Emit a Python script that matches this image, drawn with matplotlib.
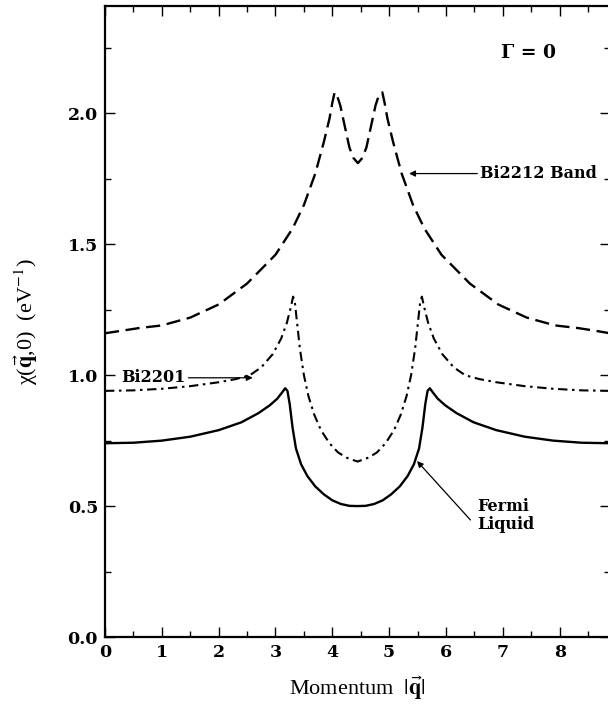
import matplotlib
matplotlib.use("Agg")
from matplotlib import pyplot as plt
from matplotlib.ticker import MultipleLocator

# Momentum |q| values and chi(q,0) for the three curves
q_band = [0.0, 0.3, 0.6, 1.0, 1.5, 2.0, 2.5, 3.0, 3.3, 3.5, 3.7, 3.85,
          3.95, 4.0, 4.04, 4.08, 4.14, 4.22, 4.3, 4.37, 4.45, 4.53, 4.6,
          4.68, 4.76, 4.82, 4.88, 4.92, 4.97, 5.07, 5.22, 5.42, 5.62,
          5.92, 6.42, 6.92, 7.42, 7.92, 8.32, 8.62, 8.886]
chi_band = [1.16, 1.17, 1.18, 1.19, 1.22, 1.27, 1.35, 1.46, 1.56, 1.65,
            1.77, 1.89, 1.98, 2.04, 2.08, 2.07, 2.03, 1.95, 1.87, 1.83,
            1.81, 1.83, 1.87, 1.95, 2.03, 2.07, 2.08, 2.04, 1.98, 1.89,
            1.77, 1.65, 1.56, 1.46, 1.35, 1.27, 1.22, 1.19, 1.18, 1.17,
            1.16]

q_2201 = [0.0, 0.5, 1.0, 1.5, 2.0, 2.3, 2.55, 2.75, 2.95, 3.1, 3.2, 3.27,
          3.31, 3.34, 3.38, 3.43, 3.5, 3.58, 3.68, 3.8, 3.95, 4.1, 4.25,
          4.443, 4.636, 4.786, 4.936, 5.086, 5.206, 5.306, 5.386, 5.456,
          5.506, 5.546, 5.576, 5.616, 5.686, 5.786, 5.936, 6.136, 6.336,
          6.586, 6.886, 7.386, 7.886, 8.386, 8.886]
chi_2201 = [0.94, 0.942, 0.948, 0.958, 0.973, 0.985, 1.0, 1.03, 1.08,
            1.14, 1.20, 1.26, 1.30, 1.28, 1.20, 1.10, 1.00, 0.92, 0.85,
            0.79, 0.74, 0.705, 0.685, 0.67, 0.685, 0.705, 0.74, 0.79,
            0.85, 0.92, 1.00, 1.10, 1.20, 1.28, 1.30, 1.26, 1.20, 1.14,
            1.08, 1.03, 1.0, 0.985, 0.973, 0.958, 0.948, 0.942, 0.94]

q_fermi = [0.0, 0.5, 1.0, 1.5, 2.0, 2.4, 2.7, 2.9, 3.03, 3.12, 3.17,
           3.21, 3.25, 3.3, 3.36, 3.45, 3.56, 3.7, 3.85, 4.0, 4.15, 4.3,
           4.443, 4.586, 4.736, 4.886, 5.036, 5.186, 5.326, 5.436, 5.526,
           5.586, 5.636, 5.676, 5.716, 5.766, 5.856, 5.986, 6.186, 6.486,
           6.886, 7.386, 7.886, 8.386, 8.886]
chi_fermi = [0.74, 0.742, 0.75, 0.765, 0.79, 0.82, 0.855, 0.885, 0.91,
             0.935, 0.95, 0.94, 0.89, 0.80, 0.72, 0.66, 0.615, 0.575,
             0.545, 0.522, 0.508, 0.501, 0.50, 0.501, 0.508, 0.522, 0.545,
             0.575, 0.615, 0.66, 0.72, 0.80, 0.89, 0.94, 0.95, 0.935,
             0.91, 0.885, 0.855, 0.82, 0.79, 0.765, 0.75, 0.742, 0.74]

x_ticks = [0, 1, 2, 3, 4, 5, 6, 7, 8]
y_ticks = [0.0, 0.5, 1.0, 1.5, 2.0]

plt.rcParams['mathtext.fontset'] = 'stix'
tick_font = {'family': 'DejaVu Serif', 'weight': 'bold', 'size': 12.5}
note_font = {'family': 'DejaVu Serif', 'weight': 'bold', 'size': 11.5}
label_font = {'family': 'Liberation Serif', 'size': 16}

fig = plt.figure(figsize=(6.08, 7.06), dpi=100)
ax = fig.add_axes([105 / 608, 69 / 706, 505 / 608, 631 / 706])

style = dict(color='black', solid_joinstyle='round',
             dash_joinstyle='round', dash_capstyle='butt')
line_band, = ax.plot(q_band, chi_band, lw=1.7, **style)
line_band.set_dashes((6, 2.8))
line_2201, = ax.plot(q_2201, chi_2201, lw=1.5, **style)
line_2201.set_dashes((4.5, 2.2, 1.2, 2.2))
ax.plot(q_fermi, chi_fermi, lw=1.7, **style)

ax.set_xlim(0, 8.886)
ax.set_ylim(0, 2.41)
ax.set_xticks(x_ticks)
ax.set_yticks(y_ticks)
ax.set_xticklabels([str(t) for t in x_ticks], fontdict=tick_font)
ax.set_yticklabels(['%.1f' % t for t in y_ticks], fontdict=tick_font)
ax.xaxis.set_minor_locator(MultipleLocator(0.5))
ax.yaxis.set_minor_locator(MultipleLocator(0.25))
ax.tick_params(which='both', direction='in', top=True, right=True,
               width=1.0, pad=5)
ax.tick_params(which='major', length=7)
ax.tick_params(which='minor', length=4)
for spine in ax.spines.values():
    spine.set_linewidth(1.6)

ax.set_xlabel(r'Momentum  $|\vec{\mathbf{q}}|$', fontdict=label_font,
              labelpad=10)
ax.set_ylabel('\u03c7(' + r'$\vec{\mathbf{q}}$' + ',0)  (eV$^{-1}$)',
              fontdict=label_font, labelpad=20)

ax.text(7.45, 2.23, '\u0393 = 0', ha='center', va='center',
        family='DejaVu Serif', weight='bold', size=13.5)

arrow = dict(arrowstyle='-|>', color='black', lw=0.9, mutation_scale=9,
             shrinkA=0, shrinkB=0)
ax.annotate('Bi2212 Band', xy=(5.35, 1.77), xytext=(6.6, 1.77),
            ha='left', va='center', arrowprops=arrow, **note_font)
ax.annotate('Bi2201', xy=(2.6, 0.99), xytext=(1.42, 0.99),
            ha='right', va='center', arrowprops=arrow, **note_font)
ax.annotate('', xy=(5.49, 0.672), xytext=(6.43, 0.447), arrowprops=arrow)
ax.text(6.55, 0.465, 'Fermi\nLiquid', ha='left', va='center',
        linespacing=1.1, **note_font)

plt.savefig('out.png', dpi=100)
